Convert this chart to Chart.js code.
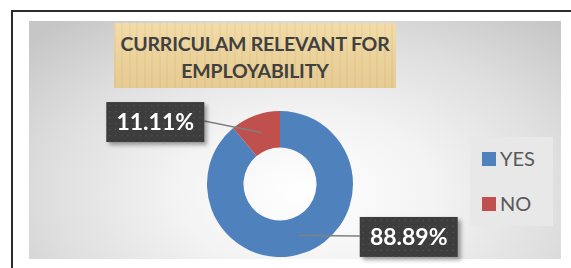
<!DOCTYPE html>
<html>
<head>
<meta charset="utf-8">
<script src="https://cdn.jsdelivr.net/npm/chart.js@4"></script>
<style>
  html, body { margin: 0; padding: 0; background: #fff; }
  #stage { position: relative; width: 571px; height: 268px; overflow: hidden; }
  #frame { position: absolute; left: 11px; top: 10px; width: 620px; height: 320px; border: 2px solid #2b2b2b; box-sizing: border-box; }
  #panel { position: absolute; left: 29px; top: 21px; width: 532px; height: 238px;
    background: radial-gradient(ellipse 70% 95% at 52% 72%, #ffffff 0%, #f3f3f3 35%, #dedede 70%, #c6c6c6 100%); }
  #title { position: absolute; left: 114px; top: 23px; width: 282px; height: 65px;
    background:
      repeating-linear-gradient(90deg, rgba(160,120,50,0.07) 0 2px, rgba(255,255,255,0) 2px 7px, rgba(120,90,30,0.05) 7px 9px, rgba(255,255,255,0) 9px 15px),
      linear-gradient(180deg, #f2dca9 0%, #ebd29b 55%, #e6cb92 100%);
    color: #404040; font-family: Lato, sans-serif; font-weight: bold; font-size: 19.5px;
    text-align: center; line-height: 27px; padding-top: 7px; box-sizing: border-box; letter-spacing: -0.2px; }
  #legend { position: absolute; left: 470px; top: 137px; width: 83px; height: 89px; background: #e8e8e8; }
  .item { position: absolute; left: 12px; font-family: Lato, sans-serif; font-size: 20px; color: #595959; }
  .item span.sw { position: absolute; left: 0; width: 14px; height: 14px; }
  .item span.tx { position: absolute; left: 18px; top: -6px; white-space: nowrap; }
  canvas { position: absolute; left: 0; top: 0; }
</style>
</head>
<body>
<div id="stage">
  <div id="frame"></div>
  <div id="panel"></div>
  <div id="title">CURRICULAM RELEVANT FOR<br>EMPLOYABILITY</div>
  <div id="legend"></div>
  <canvas id="chart" width="571" height="268"></canvas>
</div>
<script>
const categories = ['YES', 'NO'];
const shares = [88.89, 11.11];
const sliceColors = ['#4f81bd', '#c0504d'];

// where each data label box sits relative to its slice anchor
const labelOffsets = [{ dx: 110, dy: 1.5 }, { dx: -106, dy: -10.5 }];

// legend built from the same arrays
const legend = document.getElementById('legend');
categories.forEach((c, i) => {
  const el = document.createElement('div');
  el.className = 'item';
  el.style.top = (15 + i * 45) + 'px';
  el.innerHTML = `<span class="sw" style="background:${sliceColors[i]}"></span><span class="tx">${c}</span>`;
  legend.appendChild(el);
});

const calloutLabels = {
  id: 'calloutLabels',
  afterDatasetsDraw(chart) {
    const ctx = chart.ctx;
    const meta = chart.getDatasetMeta(0);
    const values = chart.data.datasets[0].data;
    meta.data.forEach((arc, i) => {
      const p = arc.tooltipPosition();
      const off = labelOffsets[i];
      const cx = p.x + off.dx, cy = p.y + off.dy;
      const w = 98, h = 40;
      const x = cx - w / 2, y = cy - h / 2;
      ctx.save();
      // leader line
      ctx.strokeStyle = '#808080';
      ctx.lineWidth = 1.5;
      ctx.beginPath();
      ctx.moveTo(p.x, p.y);
      ctx.lineTo(off.dx > 0 ? x : x + w, cy - 1);
      ctx.stroke();
      // box with shadow
      ctx.shadowColor = 'rgba(0,0,0,0.35)';
      ctx.shadowBlur = 4;
      ctx.shadowOffsetX = 3;
      ctx.shadowOffsetY = 3;
      ctx.fillStyle = '#3d3d3d';
      ctx.fillRect(x, y, w, h);
      ctx.shadowColor = 'transparent';
      // dotted texture
      ctx.fillStyle = '#555555';
      for (let yy = y + 3; yy < y + h; yy += 6) {
        for (let xx = x + 3; xx < x + w; xx += 6) ctx.fillRect(xx, yy, 1.2, 1.2);
      }
      ctx.fillStyle = '#ffffff';
      ctx.font = 'bold 23px Lato, sans-serif';
      ctx.textAlign = 'center';
      ctx.textBaseline = 'middle';
      ctx.fillText(values[i].toFixed(2) + '%', cx, cy + 1);
      ctx.restore();
    });
  }
};

new Chart(document.getElementById('chart'), {
  type: 'doughnut',
  data: {
    labels: categories,
    datasets: [{ data: shares, backgroundColor: sliceColors, borderWidth: 0, hoverOffset: 0 }]
  },
  options: {
    responsive: false,
    animation: false,
    devicePixelRatio: 1,
    cutout: '50%',
    layout: { padding: { left: 207, right: 218, top: 111, bottom: 11 } },
    plugins: { legend: { display: false }, tooltip: { enabled: false }, title: { display: false } }
  },
  plugins: [calloutLabels]
});
</script>
</body>
</html>
